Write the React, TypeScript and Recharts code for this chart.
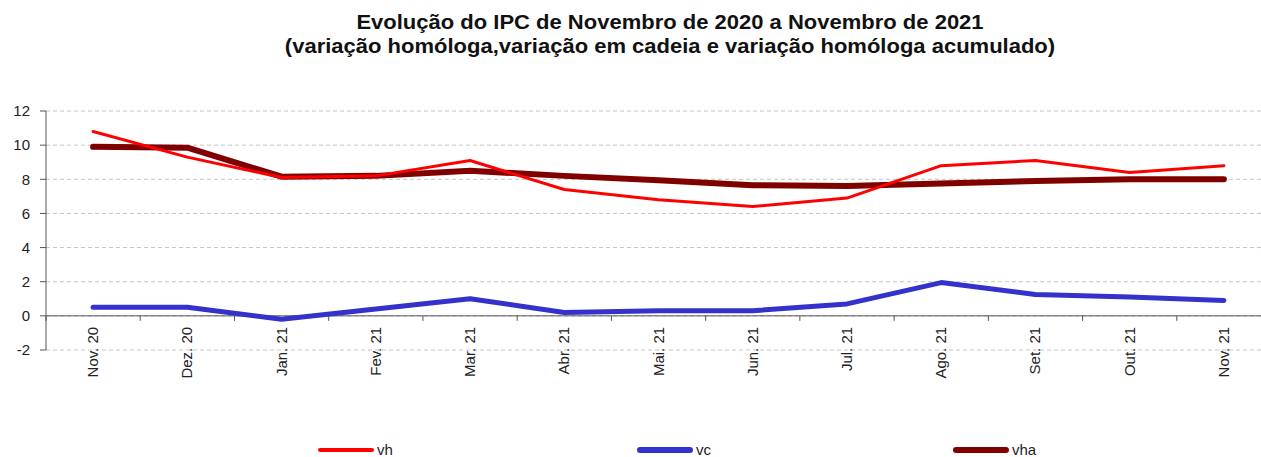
import { CartesianGrid, Legend, Line, LineChart, ReferenceLine, XAxis, YAxis } from "recharts";

const months = [
  "Nov. 20", "Dez. 20", "Jan. 21", "Fev. 21", "Mar. 21", "Abr. 21", "Mai. 21",
  "Jun. 21", "Jul. 21", "Ago. 21", "Set. 21", "Out. 21", "Nov. 21",
];
const vh = [10.8, 9.3, 8.1, 8.2, 9.1, 7.4, 6.8, 6.4, 6.9, 8.8, 9.1, 8.4, 8.8];
const vc = [0.5, 0.5, -0.2, 0.4, 1.0, 0.2, 0.3, 0.3, 0.7, 1.95, 1.25, 1.1, 0.9];
const vha = [9.9, 9.85, 8.15, 8.2, 8.5, 8.2, 7.95, 7.65, 7.6, 7.75, 7.9, 8.0, 8.0];
const yTicks = [-2, 0, 2, 4, 6, 8, 10, 12];

const series = [
  { key: "vh", color: "#ff0000", width: 3 },
  { key: "vc", color: "#3333cc", width: 5 },
  { key: "vha", color: "#800000", width: 6 },
];

const data = months.map((month, i) => ({ month, vh: vh[i], vc: vc[i], vha: vha[i] }));

const W = 1271;
const H = 457;
const TOP = 111;
const PLOT_H = 239;
const AXIS_W = 46;
const HALF_BAND = 47.1;
const ZERO_Y = TOP + (12 / 14) * PLOT_H;
const font = "'Liberation Sans', Arial, sans-serif";

function MonthTick(props: any) {
  const { x, payload } = props;
  return (
    <g>
      <line x1={x - HALF_BAND} x2={x - HALF_BAND} y1={ZERO_Y} y2={ZERO_Y + 5} stroke="#555" />
      <text
        x={0}
        y={0}
        transform={`translate(${x + 5}, ${ZERO_Y + 11}) rotate(-90)`}
        textAnchor="end"
        fontSize={15}
        fontFamily="'Liberation Sans Narrow', 'Liberation Sans', Arial"
        fill="#222"
      >
        {payload.value}
      </text>
    </g>
  );
}

function LegendBox() {
  const xs = [318, 637, 953];
  return (
    <div style={{ position: "relative", width: W, height: 20 }}>
      {series.map((s, i) => (
        <div
          key={s.key}
          style={{
            position: "absolute",
            left: xs[i],
            top: 4,
            display: "flex",
            alignItems: "center",
            fontFamily: font,
            fontSize: 15,
            color: "#222",
          }}
        >
          <span
            style={{
              display: "inline-block",
              width: 56,
              height: s.width === 3 ? 4 : 6,
              borderRadius: 3,
              background: s.color,
              marginRight: 3,
            }}
          />
          {s.key}
        </div>
      ))}
    </div>
  );
}

export default function App() {
  return (
    <div style={{ position: "absolute", left: 0, top: 0, width: 1261, height: H, overflow: "hidden", background: "#fff" }}>
      <div
        style={{
          position: "absolute",
          left: 0,
          width: 1340,
          top: 10,
          textAlign: "center",
          fontFamily: font,
          fontWeight: "bold",
          fontSize: 20,
          lineHeight: "24px",
          color: "#111",
          transform: "scaleX(1.1)",
          transformOrigin: "670px 0",
        }}
      >
        Evolução do IPC de Novembro de 2020 a Novembro de 2021
        <br />
        (variação homóloga,variação em cadeia e variação homóloga acumulado)
      </div>
      <LineChart
        width={W}
        height={H}
        data={data}
        margin={{ top: TOP, right: 0, bottom: 0, left: 0 }}
      >
        <CartesianGrid vertical={false} stroke="#c4c4c4" strokeDasharray="4 3" />
        <XAxis
          dataKey="month"
          axisLine={false}
          tickLine={false}
          tick={<MonthTick />}
          interval={0}
          padding={{ left: HALF_BAND, right: HALF_BAND }}
          height={H - TOP - PLOT_H - 20}
        />
        <YAxis
          domain={[-2, 12]}
          ticks={yTicks}
          width={AXIS_W}
          axisLine={{ stroke: "#555" }}
          tickLine={{ stroke: "#555" }}
          tickSize={6}
          tickMargin={10}
          tick={{ fill: "#222", fontSize: 15, fontFamily: font }}
          interval={0}
        />
        <ReferenceLine y={0} stroke="#555" />
        <Legend verticalAlign="bottom" height={20} content={<LegendBox />} />
        <Line dataKey="vha" stroke="#800000" strokeWidth={6} dot={false} isAnimationActive={false} strokeLinejoin="round" strokeLinecap="round" />
        <Line dataKey="vc" stroke="#3333cc" strokeWidth={5} dot={false} isAnimationActive={false} strokeLinejoin="round" strokeLinecap="round" />
        <Line dataKey="vh" stroke="#ff0000" strokeWidth={3} dot={false} isAnimationActive={false} strokeLinejoin="round" strokeLinecap="round" />
      </LineChart>
    </div>
  );
}
